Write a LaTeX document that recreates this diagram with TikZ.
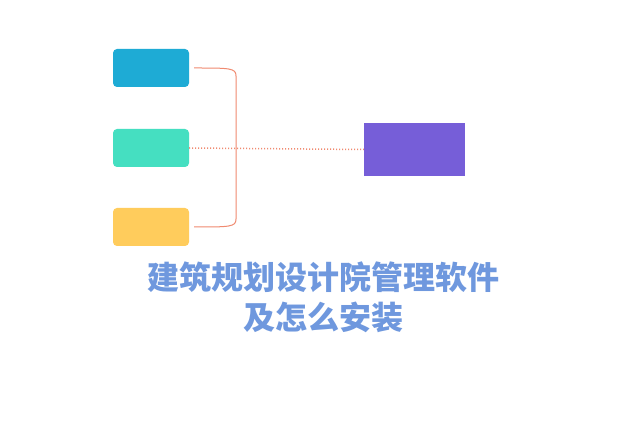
\documentclass[tikz,border=0pt]{standalone}
\usepackage{fontspec}
\newfontfamily\cjk{Noto Sans CJK SC}
\definecolor{cb}{HTML}{1EABD5}
\definecolor{ct}{HTML}{45DFC1}
\definecolor{cy}{HTML}{FFCC5C}
\definecolor{cp}{HTML}{765ED8}
\definecolor{cl}{HTML}{F08A70}
\definecolor{ctx}{HTML}{6F98DE}
\begin{document}
\begin{tikzpicture}[x=1pt,y=-1pt,
  box/.style={rounded corners=4pt,minimum width=76pt,minimum height=38pt,inner sep=0pt},
  lk/.style={draw=cl,line width=1pt}]
\useasboundingbox[fill=white] (0,0) rectangle (640,427);
\node[box,fill=cb] (b1) at (151,68) {};
\node[box,fill=ct] (b2) at (151,148) {};
\node[box,fill=cy] (b3) at (151,227) {};
\node[fill=cp,minimum width=101pt,minimum height=53pt,inner sep=0pt] (p) at (414.5,149.5) {};
\coordinate (t) at (194,68);
\coordinate (bt) at (194,227);
\draw[lk] (t) .. controls (230,68) and (236,68) .. (236,76) -- (236,219) .. controls (236,227) and (230,227) .. (bt);
\draw[lk,dotted,line width=1.5pt] (b2.east) -- (p.west);
\node[text=ctx,font=\cjk\bfseries\fontsize{32}{40}\selectfont,align=center] (title) at (323,297) {建筑规划设计院管理软件\\及怎么安装};
\end{tikzpicture}
\end{document}
